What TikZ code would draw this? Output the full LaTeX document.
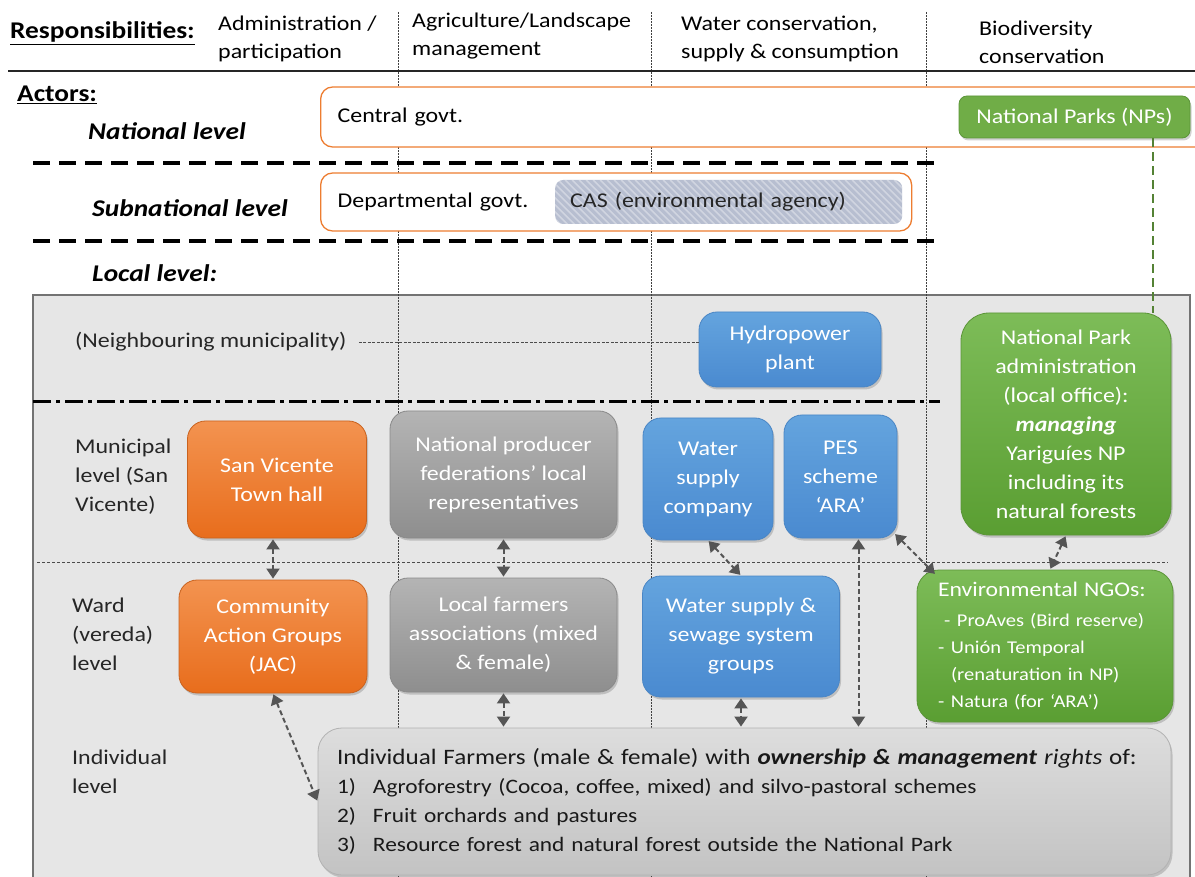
\documentclass[tikz,border=0pt]{standalone}
\usepackage{fontspec}
\setmainfont{Carlito}[FakeStretch=1.14]
\usetikzlibrary{arrows.meta,calc,shadows}
\definecolor{orgT}{HTML}{F39350}
\definecolor{orgB}{HTML}{E86D1C}
\definecolor{orgD}{HTML}{C9621E}
\definecolor{orgL}{HTML}{ED7D31}
\definecolor{gryT}{HTML}{B4B4B4}
\definecolor{gryB}{HTML}{8E8E8E}
\definecolor{gryD}{HTML}{8A8A8A}
\definecolor{bluT}{HTML}{64A4DE}
\definecolor{bluB}{HTML}{4A8AD0}
\definecolor{bluD}{HTML}{4A86C5}
\definecolor{grnT}{HTML}{7DBC58}
\definecolor{grnB}{HTML}{5A9E32}
\definecolor{grnD}{HTML}{5B9538}
\definecolor{grnF}{HTML}{70AD47}
\definecolor{grnL}{HTML}{548235}
\definecolor{indT}{HTML}{DDDDDD}
\definecolor{indB}{HTML}{C3C3C3}
\definecolor{localbg}{HTML}{E6E6E6}
\definecolor{casF}{HTML}{B7BED0}
\definecolor{arr}{HTML}{555555}
\tikzset{
  hdr/.style={font=\fontsize{21}{28}\selectfont, align=left, anchor=west, inner sep=0pt},
  lvl/.style={font=\fontsize{24}{29}\selectfont\bfseries\itshape, anchor=west, inner sep=0pt},
  lab/.style={font=\fontsize{21}{29}\selectfont, align=left, anchor=west, inner sep=0pt, text=black!85},
  shad/.style={drop shadow={shadow xshift=1.5pt, shadow yshift=-2.5pt, opacity=0.25, fill=black!70}},
  wbox/.style={shad, text=white, align=center, inner sep=0pt, line width=0.8pt, font=\fontsize{21}{29}\selectfont},
  orangebox/.style={wbox, rounded corners=18pt, top color=orgT, bottom color=orgB, draw=orgD},
  graybox/.style={wbox, rounded corners=18pt, top color=gryT, bottom color=gryB, draw=gryD},
  bluebox/.style={wbox, rounded corners=18pt, top color=bluT, bottom color=bluB, draw=bluD},
  greenbox/.style={wbox, rounded corners=28pt, top color=grnT, bottom color=grnB, draw=grnD},
  govbox/.style={draw=orgL, line width=1.3pt, fill=white, rounded corners=12pt, align=left, font=\fontsize{21}{28}\selectfont, inner ysep=0pt},
  conn/.style={draw=arr, line width=2pt, dash pattern=on 5pt off 3pt, {Triangle[width=13pt,length=10pt]}-{Triangle[width=13pt,length=10pt]}, shorten <=1pt, shorten >=1pt},
  vline/.style={draw=black!75, line width=0.6pt, dash pattern=on 2pt off 1pt},
  lvldash/.style={draw=black, line width=4pt, dash pattern=on 17pt off 9pt},
  dashdotline/.style={draw=black, line width=3pt, dash pattern=on 18pt off 5pt on 4pt off 5pt},
  thindash/.style={draw=black!70, line width=0.7pt, dash pattern=on 3pt off 2pt},
}
\begin{document}
\begin{tikzpicture}[x=1pt,y=-1pt]
\useasboundingbox (0,0) rectangle (1195,877);
\clip (0,0) rectangle (1195,877);
% local level background
\fill[localbg] (33,295) rectangle (1190,895);
\draw[black!55, line width=1.5pt] (33,895) -- (33,295) -- (1190,295) -- (1190,895);
% column separators
\foreach \x in {398,651,926} \draw[vline] (\x,12) -- (\x,877);
% header
\node[anchor=west, inner sep=0pt, font=\fontsize{24}{28}\selectfont\bfseries] (resp) at (10,33) {\underline{Responsibilities:}};
\node[hdr] (h1) at (218,39) {Administration /\\participation};
\node[hdr] (h2) at (412,36) {Agriculture/Landscape\\management};
\node[hdr] (h3) at (681,39) {Water conservation,\\supply \& consumption};
\node[hdr] (h4) at (979,42.5) {Biodiversity\\conservation};
\draw[black!85, line width=1.5pt] (8,71) -- (1195,71);
% levels
\node[anchor=west, inner sep=0pt, font=\fontsize{24}{28}\selectfont\bfseries] (actors) at (17,95) {\underline{Actors:}};
\node[lvl] (natl) at (88,131) {National level};
\node[lvl] (subl) at (92,208) {Subnational level};
\node[lvl] (locl) at (92,273) {Local level:};
\draw[lvldash] (33,163) -- (938,163);
\draw[lvldash] (33,241) -- (938,241);
\draw[dashdotline] (33,402) -- (940,402);
\draw[thindash] (37,562) -- (1168,562);
% national / subnational boxes
\node[govbox, anchor=west, minimum height=60, text width=856pt, inner xsep=17pt] (central) at (320,117) {Central govt.};
\node[wbox, rounded corners=8pt, fill=grnF, draw=grnD, minimum width=231, minimum height=42] (np) at (1074.5,117) {National Parks (NPs)};
\node[govbox, anchor=west, minimum height=58, text width=557pt, inner xsep=17pt] (subn) at (320,202) {Departmental govt.};
\node[anchor=west, rounded corners=8pt, fill=casF, minimum height=44, text width=317pt, inner xsep=15pt, inner ysep=0pt, align=left, font=\fontsize{21}{28}\selectfont, text=black!85,
  path picture={\foreach \i in {0,7,...,420}{\draw[white, opacity=0.35, line width=1.6pt] ($(path picture bounding box.north west)+(\i pt-60pt,0pt)$) -- ++(60pt,-60pt);}}] (cas) at (555,202) {CAS (environmental agency)};
% level labels
\node[lab] (neigh) at (75,342) {(Neighbouring municipality)};
\node[lab] (munl) at (75,477) {Municipal\\level (San\\Vicente)};
\node[lab] (wardl) at (72,634) {Ward\\(vereda)\\level};
\node[lab] (indl) at (72,772) {Individual\\level};
% local boxes
\node[bluebox, minimum width=182, minimum height=75] (hydro) at (790,349.5) {Hydropower\\plant};
\node[greenbox, minimum width=210, minimum height=222] (npa) at (1066,424) {National Park\\administration\\(local office):\\\textbf{\textit{managing}}\\Yarigu\'ies NP\\including its\\natural forests};
\node[orangebox, minimum width=179, minimum height=117] (sanv) at (277,479.5) {San Vicente\\Town hall};
\node[graybox, minimum width=227, minimum height=127] (npf) at (503.5,474.5) {National producer\\federations’ local\\representatives};
\node[bluebox, minimum width=130, minimum height=122] (wsc) at (708,479) {Water\\supply\\company};
\node[bluebox, minimum width=113, minimum height=123] (pes) at (840.5,476.5) {PES\\scheme\\‘ARA’};
\node[orangebox, minimum width=188, minimum height=113] (jac) at (273,636.5) {Community\\Action Groups\\(JAC)};
\node[graybox, minimum width=227, minimum height=114] (lfa) at (503.5,635) {Local farmers\\associations (mixed\\\& female)};
\node[bluebox, minimum width=197, minimum height=121] (wss) at (741,636.5) {Water supply \&\\sewage system\\groups};
\node[greenbox, rounded corners=22pt, minimum height=152, text width=214pt, inner xsep=21pt, align=left, font=\fontsize{18}{27}\selectfont] (ngo) at (1045,646) {\mbox{\fontsize{20.8}{27}\selectfont Environmental NGOs:}\\[3pt]\mbox{\makebox[19pt][l]{\ -}ProAves (Bird reserve)}\\\mbox{\makebox[13pt][l]{-}Unión Temporal}\\\mbox{\hspace*{13pt}(renaturation in NP)}\\\mbox{\makebox[13pt][l]{-}Natura (for ‘ARA’)}};
\node[wbox, rounded corners=24pt, top color=indT, bottom color=indB, draw=black!30, text=black!90, align=left, minimum height=147, text width=815pt, inner xsep=19pt, font=\fontsize{20.5}{29}\selectfont] (ind) at (744.5,801.5) {\mbox{\fontsize{22}{29}\selectfont Individual Farmers (male \& female) with \textbf{\textit{ownership \& management}} \textit{rights} of:}\\\makebox[36pt][l]{1)}Agroforestry (Cocoa, coffee, mixed) and silvo-pastoral schemes\\\makebox[36pt][l]{2)}Fruit orchards and pastures\\\makebox[36pt][l]{3)}Resource forest and natural forest outside the National Park};
% connectors
\draw[thindash, dash pattern=on 3pt off 1.5pt] ([xshift=12pt]neigh.east) -- (neigh.east -| hydro.west);
\draw[draw=grnL, line width=2pt, dash pattern=on 9pt off 5pt] ([xshift=78pt]np.south) -- ([xshift=78pt]np.south |- npa.north);
\draw[conn] (jac.north |- sanv.south) -- (jac.north);
\draw[conn] (npf.south) -- (lfa.north);
\draw[conn] (wsc.south) -- (wss.north);
\draw[conn] ([xshift=18pt]pes.south) -- ([xshift=18pt]pes.south |- ind.north);
\draw[conn] ([xshift=-3pt,yshift=5pt]pes.south east) -- ([xshift=19pt,yshift=-5pt]ngo.north west);
\draw[conn] (npa.south) -- ([xshift=5pt]ngo.north);
\draw[conn] (jac.south) -- (ind.west);
\draw[conn] (lfa.south) -- (lfa.south |- ind.north);
\draw[conn] (wss.south) -- (wss.south |- ind.north);
\end{tikzpicture}
\end{document}
